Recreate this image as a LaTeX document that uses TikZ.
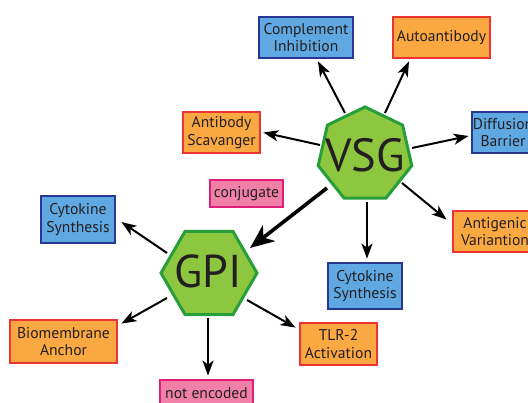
\documentclass[tikz,border=0pt]{standalone}
\usepackage{fontspec}
\setmainfont{PT Sans}
\usetikzlibrary{shapes.geometric,arrows.meta,calc}
\definecolor{bfill}{RGB}{96,168,226}
\definecolor{bdraw}{RGB}{40,56,146}
\definecolor{ofill}{RGB}{250,168,66}
\definecolor{odraw}{RGB}{236,52,50}
\definecolor{pfill}{RGB}{240,128,168}
\definecolor{pdraw}{RGB}{224,30,122}
\definecolor{gfill}{RGB}{141,198,63}
\definecolor{gdraw}{RGB}{40,158,58}
\definecolor{txt}{RGB}{35,31,32}
\tikzset{
  box/.style={draw, line width=2.8pt, inner sep=0pt, align=center, text=txt,
    font=\fontsize{15.6}{17.5}\selectfont},
  bluebox/.style={box, fill=bfill, draw=bdraw},
  orangebox/.style={box, fill=ofill, draw=odraw},
  pinkbox/.style={box, fill=pfill, draw=pdraw},
  poly/.style={regular polygon, fill=gfill, draw=gdraw, line width=3pt, inner sep=0pt},
  bigtext/.style={text=txt, inner sep=0pt},
  arr/.style={line width=2pt, -{Stealth[length=15pt,width=11pt,inset=4pt]}},
  thickarr/.style={line width=3.6pt, -{Stealth[length=24pt,width=20pt,inset=7pt]}},
}
\begin{document}
\begin{tikzpicture}[x=1pt,y=-1pt]
\clip (0,0) rectangle (528,403);
\fill[white] (0,0) rectangle (528,403);
% hubs
\node[poly, regular polygon sides=7, minimum size=96pt] (vsg) at (365,155) {};
\node[bigtext, font=\fontsize{46.5}{46}\selectfont] (vsgt) at (365,155) {VSG};
\node[poly, regular polygon sides=6, minimum size=96pt] (gpi) at (209,273) {};
\node[bigtext, font=\fontsize{46}{46}\selectfont] (gpit) at (208,271) {GPI};
% boxes
\node[bluebox, minimum width=94pt, minimum height=41pt] (comp) at (306,37.5) {Complement\\Inhibition};
\node[orangebox, minimum width=97pt, minimum height=41pt] (auto) at (441.5,37.5) {Autoantibody};
\node[bluebox, minimum width=62pt, minimum height=41pt] (diff) at (503,132.5) {Diffusion\\Barrier};
\node[orangebox, minimum width=77pt, minimum height=41pt] (ansc) at (221.5,132.5) {Antibody\\Scavanger};
\node[pinkbox, minimum width=73pt, minimum height=27pt] (conj) at (246.5,193.5) {conjugate};
\node[bluebox, minimum width=74pt, minimum height=47pt] (cytl) at (78,219.5) {Cytokine\\Synthesis};
\node[orangebox, minimum width=84pt, minimum height=41pt] (antig) at (495,231.5) {Antigenic\\Variantion};
\node[bluebox, minimum width=74pt, minimum height=46pt] (cytb) at (365,286) {Cytokine\\Synthesis};
\node[orangebox, minimum width=107pt, minimum height=43pt] (bio) at (63.5,341.5) {Biomembrane\\Anchor};
\node[orangebox, minimum width=77pt, minimum height=42pt] (tlr) at (338.5,344) {TLR-2\\Activation};
\node[pinkbox, minimum width=93pt, minimum height=27pt] (notenc) at (206.5,393.5) {not encoded};
% arrows from VSG
\draw[arr] ($(vsg)+(-20,-42)$) -- ($(comp.south)+(12,2)$);
\draw[arr] ($(vsg)+(20,-42)$) -- ($(auto.south)+(-32.5,2)$);
\draw[arr] ($(vsg)+(-45,-10)$) -- ($(ansc.east)+(2,0)$);
\draw[arr] ($(vsg)+(47,-7)$) -- ($(diff.west)+(-2,3.5)$);
\draw[arr] ($(vsg)+(37,28)$) -- ($(antig.north west)+(-5,10)$);
\draw[arr] ($(vsg)+(2,47)$) -- ($(cytb.north)+(2,-3)$);
\draw[thickarr] ($(vsg)+(-38,33)$) -- ($(gpi)+(41,-25)$);
% arrows from GPI
\draw[arr] ($(gpi)+(-42,-20)$) -- ($(cytl.east)+(5,2.5)$);
\draw[arr] ($(gpi)+(-42,25)$) -- ($(bio.north east)+(3,5)$);
\draw[arr] ($(gpi)+(-1,45)$) -- ($(notenc.north)+(1.5,-3)$);
\draw[arr] ($(gpi)+(38,27)$) -- ($(tlr.north west)+(-3,6)$);
\end{tikzpicture}
\end{document}
